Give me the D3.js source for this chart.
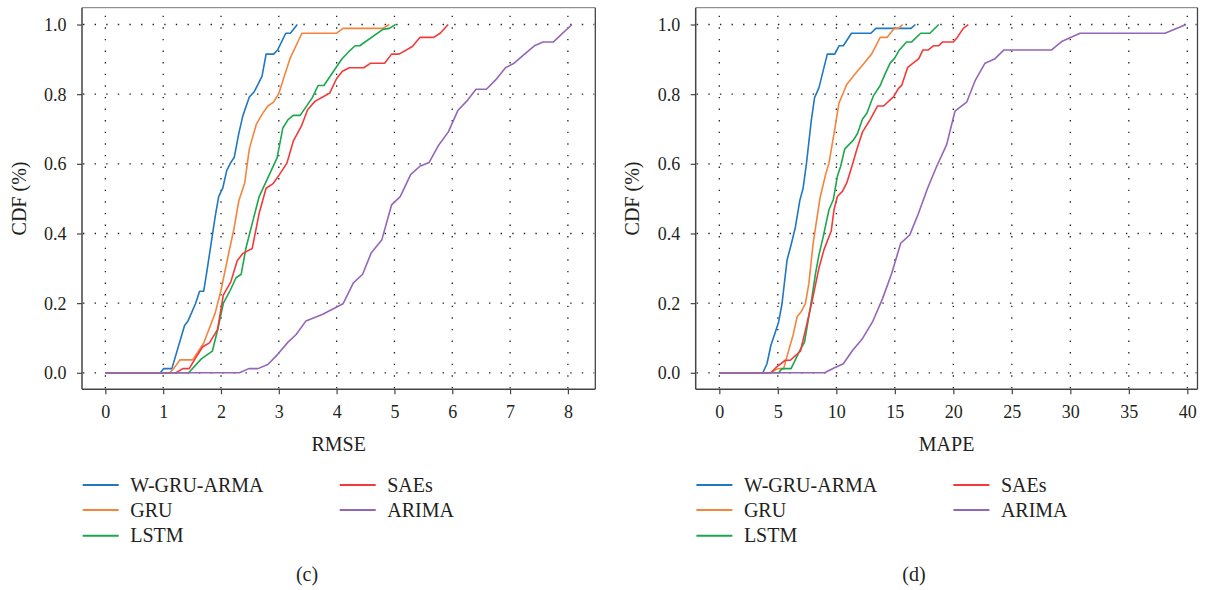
<!DOCTYPE html>
<html>
<head>
<meta charset="utf-8">
<script src="https://cdn.jsdelivr.net/npm/d3@7"></script>
<style>
  html, body { margin: 0; padding: 0; background: #fff; }
  svg text { font-family: "Liberation Serif", "Times New Roman", serif; fill: #231f20; }
</style>
</head>
<body>
<svg id="chart" width="1210" height="590"></svg>
<script>
// ---------------- Data ----------------
const seriesNames = ["W-GRU-ARMA", "GRU", "LSTM", "SAEs", "ARIMA"];
const seriesColors = ["#1f78c1", "#f5843c", "#1aa84c", "#f23a3a", "#9466b8"];

// RMSE CDF (panel c): [RMSE, CDF]
const rmseWGRU = [[0,0],[0.95,0],[1.01,0.012],[1.15,0.012],[1.37,0.136],[1.43,0.149],[1.56,0.199],[1.63,0.234],[1.70,0.234],[1.75,0.285],[1.83,0.372],[1.90,0.449],[1.96,0.506],[2.03,0.530],[2.10,0.581],[2.17,0.604],[2.23,0.619],[2.31,0.689],[2.38,0.739],[2.49,0.792],[2.57,0.806],[2.64,0.828],[2.71,0.852],[2.78,0.915],[2.91,0.915],[2.98,0.927],[3.12,0.975],[3.20,0.975],[3.32,1.0]];
const rmseGRU = [[0,0],[1.11,0],[1.18,0.012],[1.29,0.037],[1.51,0.037],[1.70,0.085],[1.90,0.172],[2.00,0.237],[2.12,0.333],[2.22,0.41],[2.31,0.495],[2.41,0.545],[2.49,0.643],[2.61,0.713],[2.71,0.742],[2.81,0.766],[2.91,0.777],[3.00,0.802],[3.10,0.854],[3.20,0.905],[3.40,0.975],[4.0,0.975],[4.11,0.989],[4.80,0.989],[4.91,1.0]];
const rmseLSTM = [[0,0],[1.44,0],[1.66,0.040],[1.85,0.062],[1.94,0.122],[2.04,0.199],[2.16,0.237],[2.26,0.273],[2.35,0.283],[2.43,0.357],[2.54,0.429],[2.66,0.506],[2.78,0.549],[2.97,0.617],[3.07,0.703],[3.16,0.727],[3.25,0.739],[3.37,0.739],[3.58,0.790],[3.68,0.825],[3.78,0.825],[4.09,0.901],[4.21,0.922],[4.32,0.939],[4.40,0.939],[4.80,0.986],[4.91,0.989],[5.02,1.0]];
const rmseSAEs = [[0,0],[1.22,0],[1.34,0.012],[1.45,0.012],[1.57,0.045],[1.68,0.074],[1.80,0.086],[1.94,0.124],[2.04,0.223],[2.17,0.261],[2.28,0.322],[2.38,0.343],[2.54,0.357],[2.66,0.458],[2.78,0.530],[2.90,0.543],[3.01,0.569],[3.14,0.602],[3.25,0.665],[3.39,0.708],[3.50,0.756],[3.63,0.780],[3.76,0.792],[3.88,0.803],[4.00,0.845],[4.10,0.866],[4.22,0.876],[4.47,0.876],[4.59,0.889],[4.83,0.889],[4.95,0.915],[5.08,0.915],[5.31,0.937],[5.44,0.963],[5.68,0.963],[5.79,0.975],[5.93,1.0]];
const rmseARIMA = [[0,0],[2.32,0],[2.48,0.012],[2.64,0.012],[2.81,0.024],[2.98,0.053],[3.16,0.088],[3.30,0.110],[3.47,0.149],[3.76,0.168],[4.11,0.198],[4.29,0.258],[4.45,0.283],[4.60,0.345],[4.78,0.381],[4.95,0.482],[5.10,0.506],[5.28,0.569],[5.44,0.593],[5.60,0.604],[5.77,0.655],[5.93,0.691],[6.10,0.754],[6.25,0.780],[6.41,0.814],[6.59,0.814],[6.75,0.841],[6.92,0.876],[7.07,0.889],[7.25,0.915],[7.42,0.939],[7.57,0.950],[7.75,0.950],[8.07,1.0]];

// MAPE CDF (panel d): [MAPE, CDF]
const mapeWGRU = [[0,0],[3.72,0],[4.07,0.026],[4.41,0.079],[4.79,0.117],[5.07,0.146],[5.36,0.199],[5.79,0.324],[6.13,0.367],[6.50,0.418],[6.88,0.495],[7.16,0.530],[7.45,0.602],[7.85,0.722],[8.14,0.790],[8.51,0.818],[9.23,0.915],[9.86,0.915],[10.23,0.939],[10.60,0.939],[11.29,0.975],[12.95,0.975],[13.38,0.989],[16.39,0.989],[16.76,1.0]];
const mapeGRU = [[0,0],[4.36,0],[4.99,0.012],[5.50,0.012],[5.85,0.055],[6.30,0.108],[6.65,0.161],[6.99,0.175],[7.36,0.199],[7.65,0.256],[8.02,0.372],[8.60,0.501],[9.08,0.569],[9.37,0.602],[9.86,0.698],[10.23,0.775],[10.60,0.804],[10.89,0.828],[11.46,0.852],[12.23,0.883],[13.01,0.915],[13.75,0.963],[14.33,0.963],[14.96,0.989],[15.30,0.989],[15.67,1.0]];
const mapeLSTM = [[0,0],[5.07,0],[5.36,0.012],[6.13,0.012],[6.88,0.064],[7.28,0.088],[7.79,0.189],[8.22,0.285],[8.51,0.338],[8.88,0.391],[9.37,0.468],[9.74,0.497],[10.09,0.564],[10.37,0.593],[10.72,0.643],[11.46,0.668],[11.81,0.687],[12.23,0.728],[12.61,0.745],[13.18,0.796],[13.75,0.825],[14.15,0.857],[14.61,0.890],[14.96,0.902],[15.39,0.927],[16.0,0.950],[16.44,0.950],[17.21,0.975],[18.0,0.975],[18.75,1.0]];
const mapeSAEs = [[0,0],[4.41,0],[4.93,0.018],[5.64,0.036],[6.07,0.036],[6.93,0.062],[7.36,0.122],[7.94,0.208],[8.51,0.300],[8.94,0.353],[9.57,0.408],[9.80,0.468],[10.09,0.506],[10.52,0.521],[10.89,0.545],[11.29,0.588],[11.75,0.641],[12.23,0.691],[12.89,0.727],[13.52,0.766],[14.04,0.766],[14.90,0.793],[15.30,0.816],[15.60,0.826],[16.10,0.877],[16.75,0.894],[17.05,0.902],[17.40,0.927],[17.86,0.927],[18.30,0.939],[18.75,0.939],[19.09,0.950],[20.0,0.950],[20.34,0.963],[20.85,0.989],[21.28,1.0]];
const mapeARIMA = [[0,0],[9.0,0],[9.80,0.014],[10.60,0.026],[11.38,0.064],[12.23,0.098],[13.09,0.146],[13.95,0.213],[14.73,0.285],[15.50,0.372],[16.28,0.396],[17.0,0.456],[17.8,0.530],[18.58,0.593],[19.43,0.655],[20.14,0.751],[21.14,0.777],[21.85,0.838],[22.71,0.889],[23.56,0.902],[24.33,0.927],[28.40,0.927],[29.26,0.951],[30.83,0.975],[38.09,0.975],[39.89,1.0]];

const rmseTicks = [0,1,2,3,4,5,6,7,8];
const mapeTicks = [0,5,10,15,20,25,30,35,40];
const cdfTicks = [0,0.2,0.4,0.6,0.8,1.0];

// ---------------- Drawing ----------------
const svg = d3.select("#chart");

const plotTop = 7.7, plotBottom = 389.3;
const y = d3.scaleLinear().domain([-0.0474, 1.0483]).range([plotBottom, plotTop]);

const panels = [
  { series: [rmseWGRU, rmseGRU, rmseLSTM, rmseSAEs, rmseARIMA], ticks: rmseTicks,
    domain: [-0.404, 8.474], left: 82, right: 595.3, xlabel: "RMSE", caption: "(c)", capX: 307 },
  { series: [mapeWGRU, mapeGRU, mapeLSTM, mapeSAEs, mapeARIMA], ticks: mapeTicks,
    domain: [-2.02, 40.87], left: 695.7, right: 1197.5, xlabel: "MAPE", caption: "(d)", capX: 914 }
];

panels.forEach(p => {
  const x = d3.scaleLinear().domain(p.domain).range([p.left, p.right]);
  const g = svg.append("g");

  // dotted grid
  const grid = g.append("g").attr("stroke", "#222").attr("stroke-width", 1.3)
    .attr("stroke-dasharray", "1.4,10.2");
  grid.selectAll("line.v").data(p.ticks).join("line").attr("class", "v")
    .attr("x1", d => x(d)).attr("x2", d => x(d))
    .attr("y1", plotBottom - 1).attr("y2", plotTop + 1);
  grid.selectAll("line.h").data(cdfTicks).join("line").attr("class", "h")
    .attr("x1", p.left + 1).attr("x2", p.right - 1)
    .attr("y1", d => y(d)).attr("y2", d => y(d));

  // lines
  const line = d3.line().x(d => x(d[0])).y(d => y(d[1]));
  p.series.forEach((s, i) => {
    g.append("path").datum(s)
      .attr("fill", "none")
      .attr("stroke", seriesColors[i])
      .attr("stroke-width", 1.6)
      .attr("stroke-linejoin", "round")
      .attr("d", line);
  });

  // frame: top and right
  g.append("line").attr("x1", p.left).attr("x2", p.right).attr("y1", plotTop).attr("y2", plotTop)
    .attr("stroke", "#777").attr("stroke-width", 1);
  g.append("line").attr("x1", p.right).attr("x2", p.right).attr("y1", plotTop).attr("y2", plotBottom)
    .attr("stroke", "#444").attr("stroke-width", 1.3);

  // x axis
  const xAxis = g.append("g").attr("transform", `translate(0,${plotBottom})`)
    .call(d3.axisBottom(x).tickValues(p.ticks).tickSize(5).tickFormat(d3.format("d")));
  xAxis.select(".domain").attr("stroke", "#444").attr("stroke-width", 1.5)
    .attr("d", `M${p.left},0H${p.right}`);
  xAxis.selectAll(".tick line").attr("stroke", "#444").attr("stroke-width", 1.2);
  xAxis.selectAll(".tick text").attr("y", 28.5).attr("dy", null)
    .style("font-size", "18px").style("font-family", "Liberation Serif").attr("fill", "#231f20");

  // y axis
  const yAxis = g.append("g").attr("transform", `translate(${p.left},0)`)
    .call(d3.axisLeft(y).tickValues(cdfTicks).tickSize(5).tickFormat(d3.format(".1f")));
  yAxis.select(".domain").attr("stroke", "#444").attr("stroke-width", 1.5)
    .attr("d", `M0,${plotTop}V${plotBottom}`);
  yAxis.selectAll(".tick line").attr("stroke", "#444").attr("stroke-width", 1.2);
  yAxis.selectAll(".tick text").attr("x", -15.5).attr("dy", "0.33em")
    .style("font-size", "18px").style("font-family", "Liberation Serif").attr("fill", "#231f20");

  // axis titles
  g.append("text").attr("x", (p.left + p.right) / 2).attr("y", 451)
    .attr("text-anchor", "middle").style("font-size", "20px").text(p.xlabel);
  g.append("text")
    .attr("transform", `translate(${p.left - 56.5},${(plotTop + plotBottom) / 2}) rotate(-90)`)
    .attr("text-anchor", "middle").style("font-size", "20px").text("CDF (%)");

  // legend
  const legendRows = [485, 510, 535.7];
  const leg = g.append("g");
  seriesNames.forEach((name, i) => {
    const col = i < 3 ? 0 : 1;
    const row = i < 3 ? i : i - 3;
    const lx = p.left + 0.7 + col * 257;
    const ly = legendRows[row];
    leg.append("line").attr("x1", lx).attr("x2", lx + 36).attr("y1", ly).attr("y2", ly)
      .attr("stroke", seriesColors[i]).attr("stroke-width", 2);
    leg.append("text").attr("x", lx + 47.5).attr("y", ly + 6.5)
      .style("font-size", "20px").text(name);
  });

  // caption
  g.append("text").attr("x", p.capX).attr("y", 581).attr("text-anchor", "middle")
    .style("font-size", "20px").text(p.caption);
});
</script>
</body>
</html>
